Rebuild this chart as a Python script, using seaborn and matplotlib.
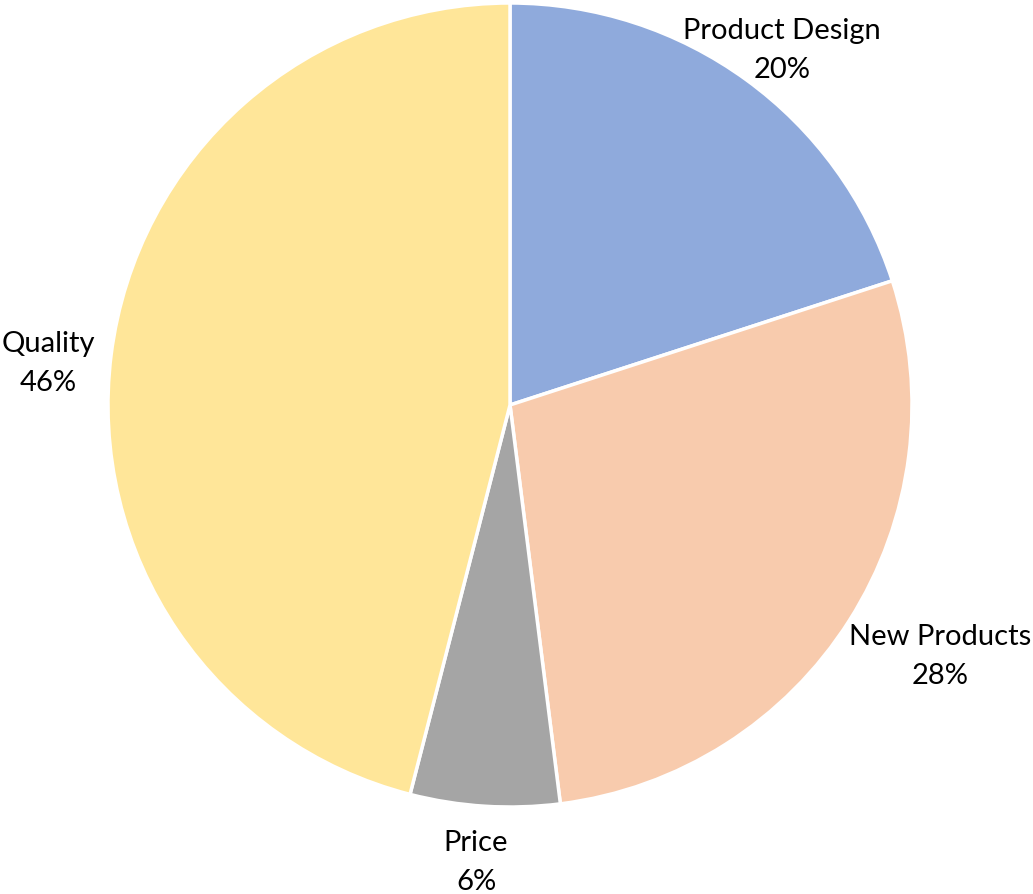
import numpy as np
import matplotlib
matplotlib.use("Agg")
import matplotlib.pyplot as plt
import seaborn as sns

categories = ["Product Design", "New Products", "Price", "Quality"]
shares = [20, 28, 6, 46]
colors = ["#8FAADC", "#F8CBAD", "#A5A5A5", "#FFE699"]
# radial distance (in radii) and angular nudge (degrees) for each label
label_dist = [1.112, 1.239, 1.14, 1.154]
label_nudge = [-1.5, 2.1, -0.65, 2.1]

sns.set_theme(style="white")
plt.rcParams["font.family"] = ["Lato", "DejaVu Sans"]

W, H = 1033, 894
fig = plt.figure(figsize=(W / 100, H / 100), dpi=100)
ax = fig.add_axes([0, 0, 1, 1])

cx, cy, r = 510, H - 405, 402
wedges, _ = ax.pie(shares, colors=colors, startangle=90, counterclock=False,
                   center=(cx, cy), radius=r, frame=True,
                   wedgeprops=dict(edgecolor="white", linewidth=2.5))
ax.set_xlim(0, W)
ax.set_ylim(0, H)
ax.set_aspect("equal")
ax.axis("off")

total = sum(shares)
for w, name, v, d, nud in zip(wedges, categories, shares, label_dist, label_nudge):
    ang = np.deg2rad((w.theta1 + w.theta2) / 2 + nud)
    x = cx + d * r * np.cos(ang)
    y = cy + d * r * np.sin(ang)
    ax.text(x, y, f"{name}\n{round(100 * v / total)}%", ha="center", va="center",
            fontsize=21, color="black", linespacing=1.62)

fig.savefig("out.png", dpi=100, facecolor="white")
